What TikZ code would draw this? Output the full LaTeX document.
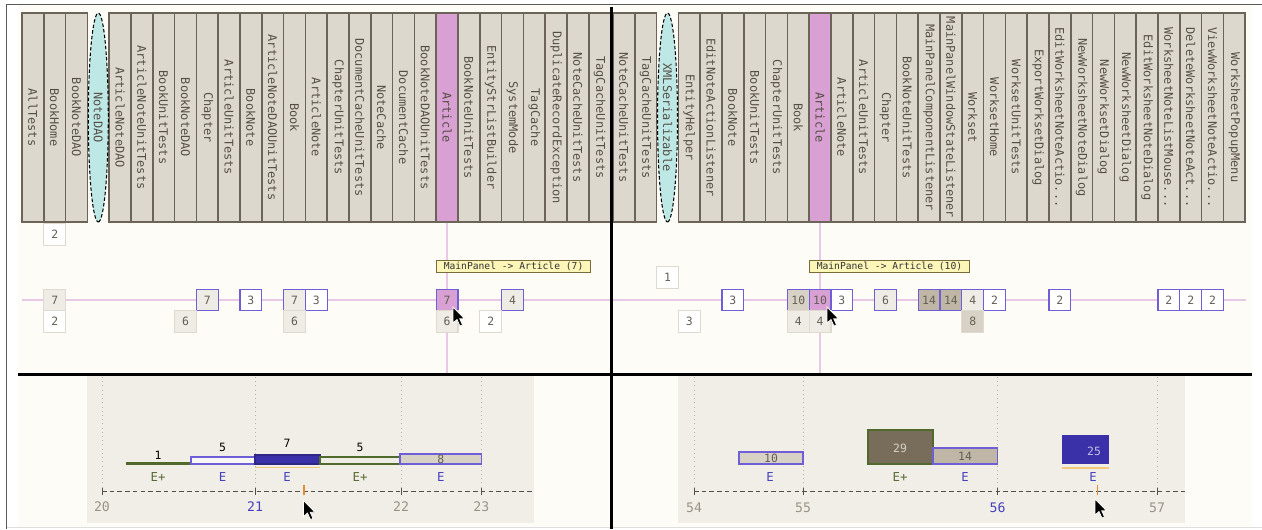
\documentclass[tikz,border=0pt]{standalone}
\usepackage{fontspec}
\usepackage{xcolor}
\newfontfamily\monofont{DejaVu Sans Mono}
\definecolor{pagebg}{RGB}{253,252,247}
\definecolor{framegray}{RGB}{90,90,90}
\definecolor{framelight}{RGB}{222,222,222}
\definecolor{colfill}{RGB}{221,216,205}
\definecolor{coledge}{RGB}{108,100,88}
\definecolor{coltext}{RGB}{85,78,68}
\definecolor{pinkfill}{RGB}{216,160,211}
\definecolor{ellfill}{RGB}{190,232,230}
\definecolor{pinkguide}{RGB}{232,200,228}
\definecolor{boxblue}{RGB}{110,95,215}
\definecolor{boxedge}{RGB}{222,218,208}
\definecolor{boxlight}{RGB}{238,236,229}
\definecolor{boxmid}{RGB}{216,210,198}
\definecolor{boxdark}{RGB}{191,182,166}
\definecolor{numtext}{RGB}{100,94,85}
\definecolor{tipfill}{RGB}{253,246,185}
\definecolor{tipedge}{RGB}{120,108,60}
\definecolor{panelbg}{RGB}{240,238,230}
\definecolor{gridgray}{RGB}{185,180,170}
\definecolor{axisgray}{RGB}{80,80,80}
\definecolor{barblue}{RGB}{58,48,168}
\definecolor{bargreen}{RGB}{80,106,44}
\definecolor{barbrown}{RGB}{120,108,90}
\definecolor{barorange}{RGB}{242,200,122}
\definecolor{tickorange}{RGB}{225,140,50}
\definecolor{labgray}{RGB}{155,146,132}
\definecolor{labblue}{RGB}{70,64,190}
\definecolor{egreen}{RGB}{90,107,53}
\usetikzlibrary{positioning, shapes.geometric, calc}
\newcommand{\trail}{...}
\newcommand{\mousecursor}[2]{\fill[black, draw=white, line width=0.4pt] (#1,#2) -- ++(0,16) -- ++(4,-3.5) -- ++(3,6.5) -- ++(2.5,-1) -- ++(-2.8,-6.2) -- ++(4.8,0) -- cycle;}

\begin{document}
\begin{tikzpicture}[x=0.02cm, y=-0.02cm,
  colbox/.style={rectangle, draw=coledge, line width=0.9pt, fill=colfill, rotate=-90,
    minimum width=4.18cm, minimum height=0.436cm, inner sep=0pt, text=coltext,
    font=\monofont\fontsize{6.8}{8}\selectfont},
  ellbox/.style={ellipse, draw=black, line width=0.6pt, dash pattern=on 2pt off 1.2pt,
    fill=ellfill, rotate=-90, minimum width=4.18cm, minimum height=0.40cm, inner sep=0pt,
    text=coltext, font=\monofont\fontsize{6.8}{8}\selectfont},
  numbox/.style={rectangle, minimum width=0.436cm, minimum height=0.43cm, inner sep=0pt,
    line width=0.7pt, text=numtext, font=\monofont\fontsize{6.5}{7}\selectfont},
  bluewhite/.style={numbox, draw=boxblue, fill=white},
  bluelight/.style={numbox, draw=boxblue, fill=boxlight},
  bluemid/.style={numbox, draw=boxblue, fill=boxmid},
  bluedark/.style={numbox, draw=boxblue, fill=boxdark},
  bluepink/.style={numbox, draw=boxblue, fill=pinkfill},
  palewhite/.style={numbox, draw=boxedge, fill=white},
  palelight/.style={numbox, draw=boxedge, fill=boxlight},
  palemid/.style={numbox, draw=boxedge, fill=boxmid},
  tipbox/.style={rectangle, draw=tipedge, fill=tipfill, line width=0.6pt, inner xsep=4pt,
    inner ysep=0pt, minimum height=0.23cm, text=black!80, font=\monofont\fontsize{5.5}{6}\selectfont},
  pinkline/.style={draw=pinkguide, line width=0.7pt},
  gridline/.style={draw=gridgray, line width=0.4pt, dotted},
  axisline/.style={draw=axisgray, line width=0.5pt, dash pattern=on 2.6pt off 1.8pt},
  axistick/.style={draw=axisgray, line width=0.5pt},
  axislabel/.style={text=labgray, font=\monofont\fontsize{7.5}{8}\selectfont},
  barlabel/.style={text=black, font=\monofont\fontsize{6.5}{7}\selectfont},
  kindlabel/.style={font=\monofont\fontsize{7}{8}\selectfont}
]
  \useasboundingbox (0,0) rectangle (1262,529);

  % --- Background and frame ---
  \fill[white] (0,0) rectangle (1262,529);
  \fill[pagebg] (18,5) rectangle (1252,527);
  \draw[framegray, line width=1.1pt] (6.5,529) -- (6.5,4.5) -- (1262,4.5);
  \draw[framelight, line width=0.6pt] (7,527.5) -- (1262,527.5);

  % Guide lines
  \draw[pinkline] (22,300) -- (611,300);
  \draw[pinkline] (612,300) -- (1246,300);

  \def\lx{22}
  \def\rx{613}
  \def\cw{21.8}

  % --- Left: class columns ---
  \foreach \s/\name in {0/AllTests, 1/BookHome, 2/BookNoteDAO, 4/ArticleNoteDAO,
      5/ArticleNoteUnitTests, 6/BookUnitTests, 7/BookNoteDAO, 8/Chapter, 9/ArticleUnitTests,
      10/BookNote, 11/ArticleNoteDAOUnitTests, 12/Book, 13/ArticleNote, 14/ChapterUnitTests,
      15/DocumentCacheUnitTests, 16/NoteCache, 17/DocumentCache, 18/BookNoteDAOUnitTests,
      20/BookNoteUnitTests, 21/EntityStrListBuilder, 22/SystemMode, 23/TagCache,
      24/DuplicateRecordException, 25/NoteCacheUnitTests, 26/TagCacheUnitTests}
    \node[colbox] (lc\s) at ({\lx+\cw*(\s+0.5)},117.5) {\name};
  \node[colbox, fill=pinkfill] (lc19) at ({\lx+\cw*19.5},117.5) {Article};
  \node[ellbox] (lc3) at ({\lx+\cw*3.5},117.5) {NoteDAO};
  \draw[pinkline] (lc19.east) -- ++(0,151);

  % Left counts
  \node[palewhite] (lt1) at ({\lx+\cw*1.5},234.5) {2};
  \foreach \s/\v/\st in {1/7/palelight, 8/7/bluelight, 10/3/bluewhite, 12/7/bluelight,
      13/3/bluewhite, 19/7/bluepink, 22/4/bluelight}
    \node[\st] (lr\s) at ({\lx+\cw*(\s+0.5)},300) {\v};
  \foreach \s/\v/\st in {1/2/palewhite, 7/6/palelight, 12/6/palelight, 19/6/palelight,
      21/2/palewhite}
    \node[\st] (lb\s) at ({\lx+\cw*(\s+0.5)},321.5) {\v};
  \node[tipbox, anchor=west] (ltip) at ({\lx+\cw*19},266.5) {MainPanel -> Article (7)};

  % --- Right: class columns ---
  \foreach \s/\name in {0/NoteCacheUnitTests, 1/TagCacheUnitTests, 3/EntityHelper,
      4/EditNoteActionListener, 5/BookNote, 6/BookUnitTests, 7/ChapterUnitTests, 8/Book,
      10/ArticleNote, 11/ArticleUnitTests, 12/Chapter, 13/BookNoteUnitTests,
      14/MainPanelComponentListener, 15/MainPanelWindowStateListener, 16/Workset,
      17/WorksetHome, 18/WorksetUnitTests, 19/ExportWorksetDialog,
      20/EditWorksheetNoteActio\trail, 21/NewWorksheetNoteDialog, 22/NewWorksetDialog,
      23/NewWorksheetDialog, 24/EditWorksheetNoteDialog, 25/WorksheetNoteListMouse\trail,
      26/DeleteWorksheetNoteAct\trail, 27/ViewWorksheetNoteActio\trail, 28/WorksheetPopupMenu}
    \node[colbox] (rc\s) at ({\rx+\cw*(\s+0.5)},117.5) {\name};
  \node[colbox, fill=pinkfill] (rc9) at ({\rx+\cw*9.5},117.5) {Article};
  \node[ellbox] (rc2) at ({\rx+\cw*2.5},117.5) {XMLSerializable};
  \draw[pinkline] (rc9.east) -- ++(0,151);

  % Right counts
  \node[palewhite] (rt2) at ({\rx+\cw*2.5},277.5) {1};
  \foreach \s/\v/\st in {5/3/bluewhite, 8/10/bluemid, 9/10/bluepink, 10/3/bluewhite,
      12/6/bluelight, 14/14/bluedark, 15/14/bluedark, 16/4/bluelight, 17/2/bluewhite,
      20/2/bluewhite, 25/2/bluewhite, 26/2/bluewhite, 27/2/bluewhite}
    \node[\st] (rr\s) at ({\rx+\cw*(\s+0.5)},300) {\v};
  \foreach \s/\v/\st in {3/3/palewhite, 8/4/palelight, 9/4/palelight, 16/8/palemid}
    \node[\st] (rb\s) at ({\rx+\cw*(\s+0.5)},321.5) {\v};
  \node[tipbox, anchor=west] (rtip) at ({\rx+\cw*9},266.5) {MainPanel -> Article (10)};

  % Dividers
  \draw[black, line width=1.6pt] (611.5,7) -- (611.5,529);
  \draw[black, line width=1.6pt] (18,374.5) -- (1252,374.5);

  % --- Bottom left: timeline ---
  \fill[panelbg] (87,376) rectangle (534,523);
  \foreach \x in {102,255,401,481.4}
    \draw[gridline] (\x,377) -- (\x,490);
  \draw[axisline] (102,491) -- (534,491);
  \foreach \x in {102,255,401,481.4}
    \draw[axistick] (\x,487.5) -- (\x,494.5);
  \draw[tickorange, line width=0.6pt] (304,485) -- (304,495);
  \node[axislabel] (l20) at (102,507) {20};
  \node[axislabel, text=labblue] (l21) at (255,507) {21};
  \node[axislabel] (l22) at (401,507) {22};
  \node[axislabel] (l23) at (481.4,507) {23};

  \draw[bargreen, line width=1.7pt] (125.7,463) -- (191,463);
  \draw[boxblue, fill=white!60!boxlight, line width=0.6pt] (191,457) rectangle (255,464);
  \draw[barblue!80!black, fill=barblue, line width=0.6pt] (255,455) rectangle (320,464);
  \draw[barorange, line width=0.8pt] (255,467.5) -- (320,467.5);
  \draw[bargreen, fill=boxlight, line width=0.6pt] (320,457) rectangle (400,464);
  \draw[boxblue, fill=boxmid, line width=0.7pt] (400,454) rectangle (481.4,464);
  \node[barlabel] (n1) at (158,455) {1};
  \node[barlabel] (n2) at (222.5,447) {5};
  \node[barlabel] (n3) at (287,443) {7};
  \node[barlabel] (n4) at (360,447) {5};
  \node[barlabel, text=numtext] (n5) at (440.7,459) {8};
  \node[kindlabel, text=egreen] (k1) at (158,477) {E+};
  \node[kindlabel, text=labblue] (k2) at (222.5,477) {E};
  \node[kindlabel, text=labblue] (k3) at (287,477) {E};
  \node[kindlabel, text=egreen] (k4) at (360,477) {E+};
  \node[kindlabel, text=labblue] (k5) at (440.7,477) {E};

  % --- Bottom right: timeline ---
  \fill[panelbg] (678,376) rectangle (1185,523);
  \foreach \x in {694,803,997.5,1157}
    \draw[gridline] (\x,377) -- (\x,490);
  \draw[axisline] (694,491) -- (1185,491);
  \foreach \x in {694,803,997.5,1157}
    \draw[axistick] (\x,487.5) -- (\x,494.5);
  \draw[tickorange, line width=0.6pt] (1097.5,485) -- (1097.5,495);
  \node[axislabel] (l54) at (694,508) {54};
  \node[axislabel] (l55) at (803,508) {55};
  \node[axislabel, text=labblue] (l56) at (997.5,508) {56};
  \node[axislabel] (l57) at (1157,508) {57};

  \draw[boxblue, fill=boxmid, line width=0.7pt] (739,452) rectangle (803,464);
  \draw[bargreen, fill=barbrown, line width=0.7pt] (868,430) rectangle (933,464);
  \draw[boxblue, fill=boxdark, line width=0.7pt] (933,448) rectangle (997.5,464);
  \fill[barblue] (1062,435) rectangle (1109,464);
  \draw[barorange, line width=0.8pt] (1062,468) -- (1109,468);
  \node[barlabel, text=numtext] (m1) at (771,458) {10};
  \node[barlabel, text=boxmid] (m2) at (900,448) {29};
  \node[barlabel, text=numtext] (m3) at (965,456) {14};
  \node[barlabel, text=barblue!30!white] (m4) at (1094,451) {25};
  \node[kindlabel, text=labblue] (j1) at (770,477) {E};
  \node[kindlabel, text=egreen] (j2) at (900,477) {E+};
  \node[kindlabel, text=labblue] (j3) at (965,477) {E};
  \node[kindlabel, text=labblue] (j4) at (1093,477) {E};

  % Mouse pointers
  \mousecursor{453}{307}
  \mousecursor{827}{307}
  \mousecursor{303.5}{500.5}
  \mousecursor{1095}{499}
\end{tikzpicture}
\end{document}
